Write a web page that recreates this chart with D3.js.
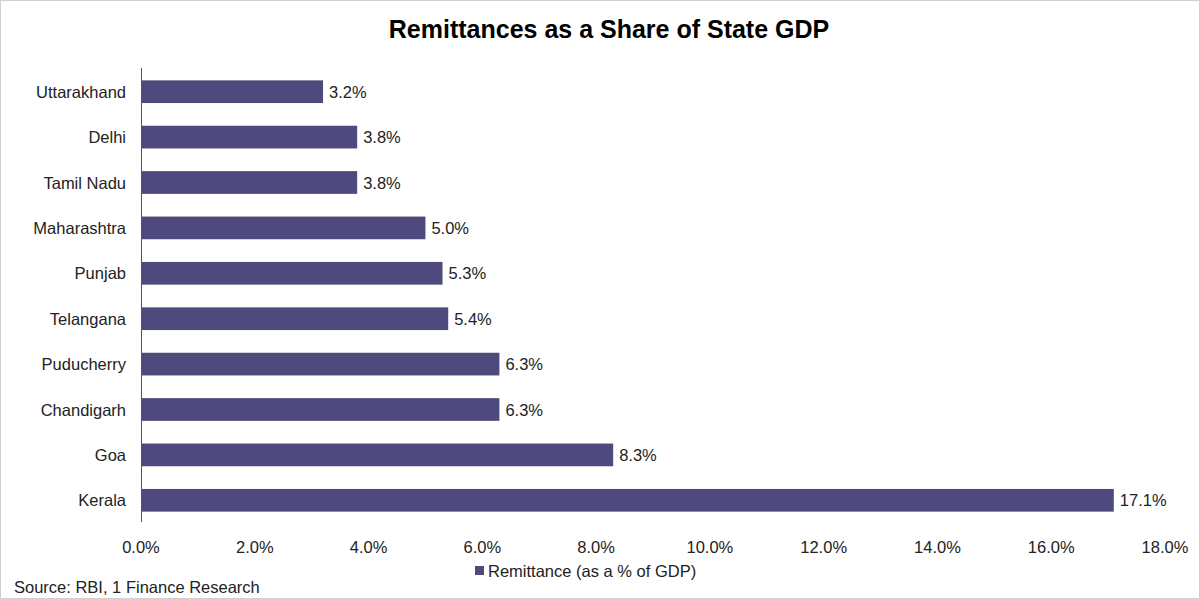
<!DOCTYPE html>
<html><head><meta charset="utf-8">
<script src="https://cdn.jsdelivr.net/npm/d3@7"></script>
<style>body{margin:0;background:#fff;font-family:Arial,"Liberation Sans",sans-serif}</style>
</head><body>
<svg id="chart" width="1200" height="599"></svg>
<script>
// ===== DATOS =====
const estados = ["Uttarakhand","Delhi","Tamil Nadu","Maharashtra","Punjab","Telangana ","Puducherry","Chandigarh","Goa","Kerala"];
const valores = [3.2, 3.8, 3.8, 5.0, 5.3, 5.4, 6.3, 6.3, 8.3, 17.1];
const ticks = [0,2,4,6,8,10,12,14,16,18];

const svg = d3.select("#chart");
const color = "#4f4a7e";
const fs = 16.5;

svg.append("rect").attr("x",0.5).attr("y",0.5).attr("width",1199).attr("height",598)
  .attr("fill","#fff").attr("stroke","#d0d0d0");

svg.append("text").attr("x",609).attr("y",38).attr("text-anchor","middle")
  .attr("font-size",25).attr("font-weight","bold").text("Remittances as a Share of State GDP");

const x = d3.scaleLinear().domain([0,18]).range([141,1165]);
const y = d3.scaleBand().domain(estados).range([69,523]).paddingInner(0.5).paddingOuter(0.25);

svg.selectAll("rect.bar").data(valores).enter().append("rect")
  .attr("class","bar")
  .attr("x",x(0)).attr("y",(d,i)=>y(estados[i]))
  .attr("width",d=>x(d)-x(0)).attr("height",y.bandwidth())
  .attr("fill",color);

svg.selectAll("text.val").data(valores).enter().append("text")
  .attr("x",d=>x(d)+6).attr("y",(d,i)=>y(estados[i])+y.bandwidth()/2+6)
  .attr("font-size",fs).attr("fill","#222").text(d=>d.toFixed(1)+"%");

// eje Y
svg.append("line").attr("x1",x(0)+0.5).attr("x2",x(0)+0.5).attr("y1",68).attr("y2",522)
  .attr("stroke","#555");
svg.selectAll("text.cat").data(estados).enter().append("text")
  .attr("x",126).attr("y",d=>y(d)+y.bandwidth()/2+6).attr("text-anchor","end")
  .attr("font-size",fs).attr("fill","#222").text(d=>d);

// eje X
svg.selectAll("text.tick").data(ticks).enter().append("text")
  .attr("x",d=>x(d)).attr("y",553).attr("text-anchor","middle")
  .attr("font-size",fs).attr("fill","#222").text(d=>d.toFixed(1)+"%");

// leyenda
svg.append("rect").attr("x",475).attr("y",566).attr("width",9).attr("height",9).attr("fill",color);
svg.append("text").attr("x",488).attr("y",577).attr("font-size",fs).attr("fill","#222")
  .text("Remittance (as a % of GDP)");

svg.append("text").attr("x",14).attr("y",593).attr("font-size",fs).attr("fill","#222")
  .text("Source: RBI, 1 Finance Research");
</script>
</body></html>
